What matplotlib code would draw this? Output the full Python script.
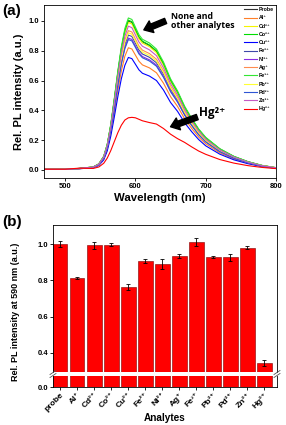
import matplotlib
matplotlib.use("Agg")
import matplotlib.pyplot as plt
from matplotlib.ticker import FormatStrFormatter

plt.rcParams["font.family"] = ["Liberation Sans", "DejaVu Sans"]
plt.rcParams["font.weight"] = "bold"

# ---- panel (a): PL spectra ----
wavelength = [470, 500, 520, 540, 548, 555, 560, 565, 570, 575, 580, 585, 590, 595, 600,
              605, 610, 620, 630, 640, 650, 660, 670, 680, 690, 700, 720, 740, 760, 780, 800]

probe = [0.005, 0.005, 0.01, 0.02, 0.04, 0.09, 0.17, 0.30, 0.47, 0.65, 0.81, 0.93, 1.00, 0.99, 0.94,
         0.89, 0.86, 0.835, 0.795, 0.71, 0.60, 0.52, 0.42, 0.34, 0.27, 0.215, 0.14, 0.09, 0.055, 0.03, 0.015]
al = [0.004, 0.004, 0.008, 0.016, 0.033, 0.074, 0.139, 0.246, 0.385, 0.533, 0.664, 0.763, 0.82, 0.812, 0.771,
      0.730, 0.705, 0.685, 0.652, 0.582, 0.492, 0.426, 0.344, 0.279, 0.221, 0.176, 0.115, 0.074, 0.045, 0.025, 0.012]
cd = [0.005, 0.005, 0.01, 0.02, 0.04, 0.089, 0.168, 0.297, 0.465, 0.644, 0.802, 0.921, 0.99, 0.980, 0.931,
      0.881, 0.851, 0.827, 0.787, 0.703, 0.594, 0.515, 0.416, 0.337, 0.267, 0.213, 0.139, 0.089, 0.054, 0.03, 0.015]
co = [0.005, 0.005, 0.01, 0.02, 0.04, 0.09, 0.171, 0.302, 0.472, 0.653, 0.814, 0.935, 1.005, 0.995, 0.945,
      0.894, 0.864, 0.839, 0.799, 0.714, 0.603, 0.523, 0.422, 0.342, 0.271, 0.216, 0.141, 0.09, 0.055, 0.03, 0.015]
cu = [0.004, 0.004, 0.008, 0.015, 0.03, 0.068, 0.128, 0.227, 0.355, 0.491, 0.612, 0.702, 0.755, 0.747, 0.710,
      0.672, 0.649, 0.630, 0.600, 0.536, 0.453, 0.393, 0.317, 0.257, 0.204, 0.162, 0.106, 0.068, 0.042, 0.023, 0.011]
fe2 = [0.005, 0.005, 0.009, 0.018, 0.036, 0.081, 0.154, 0.272, 0.425, 0.588, 0.733, 0.842, 0.905, 0.896, 0.851,
       0.805, 0.778, 0.756, 0.719, 0.643, 0.543, 0.471, 0.380, 0.308, 0.244, 0.195, 0.127, 0.081, 0.050, 0.027, 0.014]
ni = [0.004, 0.004, 0.009, 0.018, 0.035, 0.080, 0.150, 0.266, 0.416, 0.575, 0.717, 0.823, 0.885, 0.876, 0.832,
      0.788, 0.761, 0.739, 0.704, 0.628, 0.531, 0.460, 0.372, 0.301, 0.239, 0.190, 0.124, 0.080, 0.049, 0.027, 0.013]
ag = [0.005, 0.005, 0.009, 0.019, 0.037, 0.084, 0.159, 0.281, 0.439, 0.608, 0.757, 0.870, 0.935, 0.926, 0.879,
      0.832, 0.804, 0.781, 0.743, 0.664, 0.561, 0.486, 0.393, 0.318, 0.252, 0.201, 0.131, 0.084, 0.051, 0.028, 0.014]
fe3 = [0.005, 0.005, 0.01, 0.02, 0.041, 0.092, 0.173, 0.306, 0.479, 0.663, 0.826, 0.949, 1.02, 1.010, 0.959,
       0.908, 0.877, 0.852, 0.811, 0.724, 0.612, 0.530, 0.428, 0.347, 0.275, 0.219, 0.143, 0.092, 0.056, 0.031, 0.015]
pb = [0.005, 0.005, 0.009, 0.018, 0.037, 0.083, 0.156, 0.276, 0.432, 0.598, 0.745, 0.856, 0.92, 0.911, 0.865,
      0.819, 0.791, 0.768, 0.731, 0.653, 0.552, 0.478, 0.386, 0.313, 0.248, 0.198, 0.129, 0.083, 0.051, 0.028, 0.014]
pd_ = [0.004, 0.004, 0.009, 0.018, 0.035, 0.079, 0.149, 0.263, 0.411, 0.569, 0.709, 0.814, 0.875, 0.866, 0.823,
       0.779, 0.753, 0.731, 0.696, 0.621, 0.525, 0.455, 0.368, 0.298, 0.236, 0.188, 0.123, 0.079, 0.048, 0.026, 0.013]
zn = [0.005, 0.005, 0.01, 0.019, 0.039, 0.087, 0.164, 0.290, 0.454, 0.627, 0.782, 0.897, 0.965, 0.955, 0.907,
      0.859, 0.830, 0.806, 0.767, 0.685, 0.579, 0.502, 0.405, 0.328, 0.261, 0.207, 0.135, 0.087, 0.053, 0.029, 0.014]
hg = [0.005, 0.005, 0.012, 0.01, 0.02, 0.045, 0.08, 0.13, 0.19, 0.25, 0.30, 0.335, 0.35, 0.353, 0.35,
      0.34, 0.33, 0.318, 0.308, 0.278, 0.24, 0.21, 0.185, 0.155, 0.127, 0.105, 0.07, 0.046, 0.029, 0.017, 0.009]

spectra = [probe, al, cd, co, cu, fe2, ni, ag, fe3, pb, pd_, zn, hg]
legend_labels = ["Probe", "Al⁺", "Cd²⁺", "Co²⁺", "Cu²⁺", "Fe²⁺", "Ni²⁺",
                 "Ag⁺", "Fe³⁺", "Pb²⁺", "Pd²⁺", "Zn²⁺", "Hg²⁺"]
colors = ["#333333", "#FF7F27", "#F5F500", "#00DD00", "#0000FF", "#3F48A8", "#8A2BE2",
          "#FF8C50", "#33E633", "#FFFF33", "#2F55D4", "#C45AC4", "#FF0000"]

# ---- panel (b): intensity at 590 nm ----
analytes = ["probe", "Al⁺", "Cd²⁺", "Co²⁺", "Cu²⁺", "Fe²⁺", "Ni²⁺",
            "Ag⁺", "Fe³⁺", "Pb²⁺", "Pd²⁺", "Zn²⁺", "Hg²⁺"]
intensity = [1.0, 0.815, 0.993, 0.997, 0.762, 0.907, 0.892, 0.932, 1.010, 0.928, 0.926, 0.981, 0.343]
errors = [0.015, 0.006, 0.02, 0.01, 0.017, 0.011, 0.027, 0.011, 0.022, 0.004, 0.021, 0.009, 0.016]

W, H = 286, 425
fig = plt.figure(figsize=(W / 100, H / 100), dpi=100)

ax = fig.add_axes([44 / W, 1 - 178 / H, 232 / W, 173 / H])
for y, lab, c in zip(spectra, legend_labels, colors):
    ax.plot(wavelength, y, color=c, lw=0.8, label=lab)
ax.set_xlim(470, 800)
ax.set_ylim(-0.054, 1.107)
ax.set_xticks([500, 600, 700, 800])
ax.set_yticks([0.0, 0.2, 0.4, 0.6, 0.8, 1.0])
ax.tick_params(labelsize=5.5, length=2, width=0.6, pad=1.5)
for s in ax.spines.values():
    s.set_linewidth(0.6)
ax.set_xlabel("Wavelength (nm)", fontsize=8.2, fontweight="bold", labelpad=2.5)
ax.set_ylabel("Rel. PL intensity (a.u.)", fontsize=8, fontweight="bold", labelpad=3)
ax.legend(loc="upper right", fontsize=3.8, frameon=False, handlelength=2.4,
          labelspacing=0.62, borderaxespad=0.2, handletextpad=0.4, borderpad=0.2)

arrow = dict(facecolor="black", edgecolor="black", width=4, headwidth=9, headlength=6, shrink=0)
ax.annotate("", xy=(612, 0.94), xytext=(643, 1.0), arrowprops=arrow)
ax.text(650, 1.0, "None and\nother analytes", fontsize=6.3, fontweight="bold",
        family=["Open Sans", "DejaVu Sans"], va="center", ha="left", linespacing=1.1)
ax.annotate("", xy=(650, 0.29), xytext=(688, 0.355), arrowprops=arrow)
ax.text(690, 0.385, "Hg²⁺", fontsize=8.5, fontweight="bold",
        family=["Open Sans", "DejaVu Sans"], va="center", ha="left")
fig.text(2 / W, 1 - 11 / H, "(a)", fontsize=11, fontweight="bold", va="center")

# ---- panel (b) with broken y-axis ----
x = list(range(len(analytes)))
left, right = 53 / W, 277 / W
top_ax = fig.add_axes([left, 1 - 372 / H, right - left, (372 - 225) / H])
bot_ax = fig.add_axes([left, 1 - 387 / H, right - left, 11 / H], sharex=top_ax)

for a in (top_ax, bot_ax):
    a.bar(x, intensity, width=0.86, color="#FF0000", edgecolor="#7a0000", linewidth=0.4,
          yerr=errors, error_kw=dict(ecolor="black", elinewidth=0.6, capsize=1.3, capthick=0.6))
    a.set_xlim(-0.42, 12.74)
    a.tick_params(labelsize=5.5, length=2, width=0.6, pad=1.5)
    a.yaxis.set_major_formatter(FormatStrFormatter("%.1f"))
    for s in a.spines.values():
        s.set_linewidth(0.6)

top_ax.set_ylim(0.295, 1.105)
top_ax.set_yticks([0.4, 0.6, 0.8, 1.0])
top_ax.spines["bottom"].set_visible(False)
top_ax.tick_params(axis="x", bottom=False, labelbottom=False)

bot_ax.set_ylim(0, 0.06)
bot_ax.set_yticks([0.0])
bot_ax.spines["top"].set_visible(False)
bot_ax.set_xticks(x)
bot_ax.set_xticklabels(analytes, rotation=45, ha="right", rotation_mode="anchor", fontsize=6)
bot_ax.set_xlabel("Analytes", fontsize=7.2, fontweight="bold", labelpad=-0.5)

# break marks "//" on both side spines
for xs in (left, right):
    for yp in (372.5, 375.5):
        fig.add_artist(plt.Line2D([xs - 3 / W, xs + 3 / W], [1 - (yp + 2) / H, 1 - (yp - 2) / H],
                                  color="#555555", lw=0.6))

fig.text(16 / W, 1 - 312 / H, "Rel. PL intensity at 590 nm (a.u.)", fontsize=6.5, fontweight="bold",
         rotation=90, va="center", ha="center")
fig.text(2 / W, 1 - 222 / H, "(b)", fontsize=11, fontweight="bold", va="center")

fig.savefig("out.png", dpi=100)
